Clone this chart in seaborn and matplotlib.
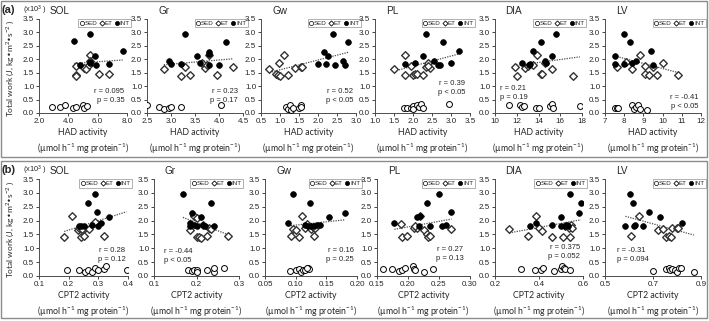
import numpy as np
import matplotlib
matplotlib.use("Agg")
import matplotlib.pyplot as plt
import seaborn as sns
from matplotlib.lines import Line2D
from matplotlib.patches import Rectangle

MUSCLES = ["SOL", "Gr", "Gw", "PL", "DIA", "LV"]

# ---- panel (a): HAD activity vs total work (x10^3), (x, y) pairs ----
HAD_SOL_SED = [(2.9, 0.22), (3.4, 0.22), (3.8, 0.30), (4.3, 0.18), (4.5, 0.22), (5.0, 0.30), (5.1, 0.20), (5.3, 0.25)]
HAD_SOL_ET = [(5.5, 2.17), (4.5, 1.75), (4.5, 1.40), (4.5, 1.38), (5.1, 1.68), (5.2, 1.63), (5.4, 1.78), (6.1, 1.45), (6.8, 1.45), (5.5, 1.95)]
HAD_SOL_INT = [(4.4, 2.67), (5.5, 2.96), (5.8, 2.13), (7.7, 2.30), (4.8, 1.80), (5.5, 1.90), (5.5, 1.85), (5.9, 1.80), (6.8, 1.83)]

HAD_GR_SED = [(2.5, 0.30), (2.75, 0.22), (2.85, 0.15), (2.95, 0.18), (3.0, 0.24), (3.2, 0.22), (4.05, 0.30)]
HAD_GR_ET = [(2.85, 1.65), (3.2, 1.38), (3.3, 1.72), (3.4, 1.43), (3.65, 1.87), (3.7, 1.68), (3.75, 1.78), (3.8, 2.16), (3.95, 1.43), (4.3, 1.73)]
HAD_GR_INT = [(3.3, 2.95), (2.95, 1.93), (3.0, 1.83), (3.2, 1.82), (3.55, 2.13), (3.6, 1.87), (3.8, 2.28), (3.8, 2.18), (3.8, 1.80), (4.0, 1.80), (4.15, 2.65)]

HAD_GW_SED = [(1.15, 0.22), (1.2, 0.15), (1.25, 0.28), (1.3, 0.12), (1.35, 0.20), (1.5, 0.18), (1.55, 0.30), (1.55, 0.22)]
HAD_GW_ET = [(0.72, 1.65), (0.9, 1.45), (0.95, 1.40), (1.0, 1.38), (0.97, 1.87), (1.1, 2.16), (1.2, 1.42), (1.4, 1.68), (1.55, 1.72), (1.58, 1.73)]
HAD_GW_INT = [(2.0, 1.82), (2.15, 2.28), (2.2, 1.83), (2.25, 2.13), (2.4, 2.95), (2.45, 1.80), (2.65, 1.93), (2.7, 1.80), (2.8, 2.65)]

HAD_PL_SED = [(1.75, 0.20), (1.85, 0.18), (1.95, 0.20), (2.0, 0.25), (2.0, 0.15), (2.1, 0.30), (2.15, 0.22), (2.2, 0.35), (2.25, 0.20), (2.95, 0.35)]
HAD_PL_ET = [(1.5, 1.65), (1.8, 2.17), (1.8, 1.40), (1.95, 1.75), (2.0, 1.43), (2.05, 1.45), (2.1, 1.45), (2.25, 1.40), (2.35, 1.72), (2.4, 1.87), (2.45, 1.68), (2.4, 1.76)]
HAD_PL_INT = [(1.8, 1.82), (2.05, 1.85), (2.25, 2.12), (2.35, 2.95), (2.55, 1.93), (2.65, 1.80), (2.7, 1.80), (2.8, 2.65), (3.0, 1.85), (3.2, 2.30)]

HAD_DIA_SED = [(11.3, 0.28), (12.3, 0.30), (12.5, 0.22), (12.7, 0.25), (13.8, 0.20), (14.0, 0.18), (15.1, 0.25), (15.2, 0.35), (15.3, 0.20), (17.8, 0.25)]
HAD_DIA_ET = [(11.8, 1.72), (12.0, 1.38), (12.8, 1.68), (13.0, 1.75), (13.5, 1.77), (13.9, 2.17), (14.2, 1.45), (14.3, 1.45), (14.6, 1.85), (15.2, 1.65), (17.2, 1.38)]
HAD_DIA_INT = [(12.5, 1.85), (13.1, 1.80), (13.2, 1.83), (13.5, 2.30), (14.2, 2.65), (14.6, 1.95), (14.7, 1.88), (15.2, 2.12), (15.6, 2.95)]

HAD_LV_SED = [(7.5, 0.20), (7.6, 0.20), (7.7, 0.20), (8.4, 0.28), (8.5, 0.15), (8.6, 0.22), (8.7, 0.30), (8.8, 0.15), (9.2, 0.12)]
HAD_LV_ET = [(7.6, 1.72), (8.1, 1.90), (8.4, 1.65), (8.8, 2.17), (9.1, 1.45), (9.1, 1.75), (9.3, 1.40), (9.5, 1.70), (9.7, 1.40), (10.0, 1.88), (10.8, 1.43)]
HAD_LV_INT = [(7.5, 2.13), (7.5, 1.83), (8.0, 2.95), (8.0, 1.82), (8.3, 2.65), (8.4, 1.85), (8.6, 1.93), (9.4, 2.30), (9.5, 1.80)]

# ---- panel (b): CPT2 activity vs total work (x10^3) ----
CPT_SOL_SED = [(0.195, 0.20), (0.235, 0.22), (0.255, 0.15), (0.265, 0.20), (0.28, 0.15), (0.29, 0.30), (0.30, 0.20), (0.32, 0.25), (0.325, 0.35), (0.395, 0.22)]
CPT_SOL_ET = [(0.185, 1.40), (0.21, 2.17), (0.23, 1.65), (0.235, 1.72), (0.24, 1.40), (0.25, 1.45), (0.255, 1.72), (0.27, 1.68), (0.29, 1.95), (0.32, 1.45), (0.245, 1.70)]
CPT_SOL_INT = [(0.235, 1.80), (0.25, 1.82), (0.265, 2.65), (0.28, 1.85), (0.29, 2.95), (0.295, 2.30), (0.30, 1.80), (0.31, 1.92), (0.335, 2.12), (0.24, 1.82)]

CPT_GR_SED = [(0.18, 0.22), (0.19, 0.17), (0.195, 0.20), (0.20, 0.22), (0.20, 0.15), (0.225, 0.22), (0.24, 0.15), (0.24, 0.30), (0.265, 0.30)]
CPT_GR_ET = [(0.185, 1.65), (0.195, 2.15), (0.20, 1.40), (0.205, 1.40), (0.21, 1.38), (0.215, 1.85), (0.225, 1.45), (0.23, 1.75), (0.235, 1.70), (0.275, 1.45), (0.20, 2.10)]
CPT_GR_INT = [(0.168, 2.95), (0.185, 1.92), (0.19, 2.28), (0.185, 1.82), (0.20, 1.82), (0.21, 2.12), (0.215, 1.85), (0.22, 1.80), (0.235, 2.65), (0.24, 1.80), (0.195, 1.85)]

CPT_GW_SED = [(0.09, 0.18), (0.10, 0.20), (0.105, 0.25), (0.108, 0.15), (0.112, 0.22), (0.115, 0.20), (0.12, 0.30), (0.122, 0.25), (0.118, 0.28)]
CPT_GW_ET = [(0.092, 1.45), (0.095, 1.68), (0.10, 1.65), (0.105, 1.40), (0.11, 2.15), (0.115, 1.72), (0.118, 1.88), (0.125, 1.70), (0.128, 1.78), (0.13, 1.45), (0.132, 1.72)]
CPT_GW_INT = [(0.088, 1.93), (0.095, 2.95), (0.115, 1.85), (0.12, 1.80), (0.123, 2.65), (0.13, 1.80), (0.135, 1.85), (0.14, 1.85), (0.155, 2.12), (0.18, 2.28), (0.125, 1.82)]

CPT_PL_SED = [(0.16, 0.25), (0.175, 0.25), (0.185, 0.18), (0.19, 0.20), (0.195, 0.30), (0.208, 0.35), (0.21, 0.25), (0.212, 0.20), (0.225, 0.15), (0.24, 0.25)]
CPT_PL_ET = [(0.188, 1.88), (0.19, 1.40), (0.198, 1.45), (0.21, 1.72), (0.215, 1.72), (0.22, 2.15), (0.225, 1.65), (0.23, 1.50), (0.232, 1.40), (0.235, 1.45), (0.27, 1.68), (0.212, 1.80)]
CPT_PL_INT = [(0.178, 1.93), (0.215, 2.12), (0.218, 1.80), (0.22, 2.18), (0.23, 2.65), (0.235, 1.82), (0.25, 2.95), (0.255, 1.82), (0.262, 1.85), (0.27, 2.30)]

CPT_DIA_SED = [(0.32, 0.25), (0.38, 0.20), (0.41, 0.22), (0.42, 0.30), (0.47, 0.18), (0.50, 0.25), (0.505, 0.35), (0.515, 0.28), (0.52, 0.25), (0.54, 0.22)]
CPT_DIA_ET = [(0.265, 1.70), (0.35, 1.45), (0.385, 2.15), (0.40, 1.72), (0.415, 1.62), (0.46, 1.42), (0.51, 1.40), (0.52, 1.82), (0.535, 1.75), (0.54, 1.40), (0.545, 1.85), (0.55, 1.72)]
CPT_DIA_INT = [(0.36, 1.82), (0.385, 1.92), (0.46, 1.85), (0.50, 2.12), (0.50, 1.80), (0.52, 1.82), (0.53, 1.80), (0.54, 2.95), (0.58, 2.28), (0.59, 2.65), (0.525, 1.85)]

CPT_LV_SED = [(0.70, 0.18), (0.755, 0.25), (0.765, 0.30), (0.77, 0.20), (0.78, 0.25), (0.79, 0.22), (0.80, 0.15), (0.81, 0.28), (0.815, 0.30), (0.87, 0.15)]
CPT_LV_ET = [(0.61, 1.45), (0.64, 2.17), (0.72, 1.65), (0.74, 1.68), (0.755, 1.40), (0.765, 1.45), (0.78, 1.72), (0.80, 1.72), (0.805, 1.75), (0.775, 1.42)]
CPT_LV_INT = [(0.585, 1.82), (0.605, 2.95), (0.615, 2.65), (0.62, 1.82), (0.625, 1.85), (0.66, 1.82), (0.685, 2.30), (0.73, 2.12), (0.82, 1.93)]

HAD_DATA = [
    (HAD_SOL_SED, HAD_SOL_ET, HAD_SOL_INT), (HAD_GR_SED, HAD_GR_ET, HAD_GR_INT),
    (HAD_GW_SED, HAD_GW_ET, HAD_GW_INT), (HAD_PL_SED, HAD_PL_ET, HAD_PL_INT),
    (HAD_DIA_SED, HAD_DIA_ET, HAD_DIA_INT), (HAD_LV_SED, HAD_LV_ET, HAD_LV_INT),
]
CPT_DATA = [
    (CPT_SOL_SED, CPT_SOL_ET, CPT_SOL_INT), (CPT_GR_SED, CPT_GR_ET, CPT_GR_INT),
    (CPT_GW_SED, CPT_GW_ET, CPT_GW_INT), (CPT_PL_SED, CPT_PL_ET, CPT_PL_INT),
    (CPT_DIA_SED, CPT_DIA_ET, CPT_DIA_INT), (CPT_LV_SED, CPT_LV_ET, CPT_LV_INT),
]

HAD_XTICKS = [[2.0, 4.0, 6.0, 8.0], [2.5, 3.0, 3.5, 4.0, 4.5], [0.5, 1.0, 1.5, 2.0, 2.5, 3.0],
              [1.0, 1.5, 2.0, 2.5, 3.0, 3.5], [10, 12, 14, 16, 18], [7, 8, 9, 10, 11, 12]]
HAD_XFMT = ["{:.1f}", "{:.1f}", "{:.1f}", "{:.1f}", "{:.0f}", "{:.0f}"]
HAD_R = ["0.095", "0.23", "0.52", "0.39", "0.21", "-0.41"]
HAD_P = ["= 0.35", "= 0.17", "< 0.05", "< 0.05", "= 0.19", "< 0.05"]

CPT_XTICKS = [[0.1, 0.2, 0.3, 0.4], [0.1, 0.2, 0.3], [0.05, 0.10, 0.15, 0.20],
              [0.15, 0.20, 0.25, 0.30], [0.2, 0.4, 0.6], [0.5, 0.7, 0.9]]
CPT_XFMT = ["{:.1f}", "{:.1f}", "{:.2f}", "{:.2f}", "{:.1f}", "{:.1f}"]
CPT_R = ["0.28", "-0.44", "0.16", "0.27", "0.375", "-0.31"]
CPT_P = ["= 0.12", "< 0.05", "= 0.25", "= 0.13", "= 0.052", "= 0.094"]

# layout (pixels of a 709x321 canvas)
W, H = 709, 321
ROW_A = dict(lefts=[39, 147, 261, 375, 495, 605], rights=[127, 243, 356, 470, 582, 701], top=19, bottom=113)
ROW_B = dict(lefts=[39, 154, 265, 377, 495, 605], rights=[128, 239, 357, 470, 583, 701], top=179, bottom=276)
# stat text: (x in axes fraction, y of lower line, alignment)
A_TXT = [(0.97, 0.10, "right"), (0.95, 0.10, "right"), (0.97, 0.10, "right"),
         (0.95, 0.18, "right"), (0.06, 0.13, "left"), (0.97, 0.03, "right")]
B_TXT = [(0.97, 0.13, "right"), (0.12, 0.12, "left"), (0.97, 0.13, "right"),
         (0.93, 0.14, "right"), (0.97, 0.16, "right"), (0.12, 0.13, "left")]

sns.set_theme(style="ticks")
plt.rcParams["font.family"] = ["Liberation Sans", "DejaVu Sans"]
plt.rcParams["mathtext.default"] = "regular"

fig = plt.figure(figsize=(W / 100, H / 100), dpi=100)

LABEL_FONT = ["Lato", "DejaVu Sans"]


def draw_row(data, xticks, xfmt, rvals, pvals, txt, row, xname, tag):
    for i, (sed, et, intv) in enumerate(data):
        l, r = row["lefts"][i], row["rights"][i]
        ax = fig.add_axes([l / W, 1 - row["bottom"] / H, (r - l) / W, (row["bottom"] - row["top"]) / H])

        sx, sy = zip(*sed)
        ex, ey = zip(*et)
        ix, iy = zip(*intv)
        sns.scatterplot(x=list(sx), y=list(sy), marker="o", color="white", edgecolor="black",
                        linewidth=0.7, s=18, ax=ax, zorder=3)
        sns.scatterplot(x=list(ex), y=list(ey), marker="D", color="white", edgecolor="0.2",
                        linewidth=1.0, s=15, ax=ax, zorder=3)
        sns.scatterplot(x=list(ix), y=list(iy), marker="o", color="black", edgecolor="black",
                        linewidth=0.5, s=17, ax=ax, zorder=4)
        # dotted trend line fitted on the trained (ET + INT) animals,
        # drawn from the lowest trained x to the largest x of the panel
        trained_x = np.array(ex + ix)
        ax.set_xlim(trained_x.min(), max(sx + ex + ix))
        sns.regplot(x=trained_x, y=np.array(ey + iy), scatter=False, ci=None, ax=ax,
                    truncate=False, color="0.3", line_kws=dict(lw=0.9, ls=(0, (1, 1))))

        ax.set_xlim(xticks[i][0], xticks[i][-1])
        ax.set_ylim(0, 3.5)
        ax.set_xticks(xticks[i])
        ax.set_xticklabels([xfmt[i].format(v) for v in xticks[i]])
        ax.set_yticks(np.arange(0, 3.51, 0.5))
        ax.set_yticklabels(["{:.1f}".format(v) for v in np.arange(0, 3.51, 0.5)])
        ax.tick_params(direction="out", length=2, width=0.6, labelsize=5.8, pad=1.5, colors="0.15")
        for sp in ["left", "bottom"]:
            ax.spines[sp].set_linewidth(0.7)
            ax.spines[sp].set_color("0.3")
        sns.despine(ax=ax)
        ax.set_xlabel(xname + " activity\n(µmol h$^{-1}$ mg protein$^{-1}$)", fontsize=6.3,
                      family=LABEL_FONT, labelpad=2, linespacing=1.5)
        ax.set_ylabel("")

        ax.text(0.12, 1.03, MUSCLES[i], transform=ax.transAxes, fontsize=7.2, va="bottom", ha="left")
        tx, ty, ha = txt[i]
        ax.text(tx, ty, "r = " + rvals[i] + "\np " + pvals[i], transform=ax.transAxes,
                fontsize=5.5, ha=ha, va="bottom", linespacing=1.4)

        handles = [
            Line2D([], [], ls="", marker="o", mfc="white", mec="black", ms=3, mew=0.5),
            Line2D([], [], ls="", marker="D", mfc="white", mec="black", ms=2.6, mew=0.6),
            Line2D([], [], ls="", marker="o", mfc="black", mec="black", ms=3, mew=0.5),
        ]
        leg = ax.legend(handles, ["SED", "ET", "INT"], ncol=3, loc="upper right",
                        bbox_to_anchor=(1.05, 1.0), fontsize=4.5, frameon=True, fancybox=False,
                        handlelength=0.6, handletextpad=0.15, columnspacing=0.4,
                        borderpad=0.25, borderaxespad=0)
        leg.get_frame().set_edgecolor("0.55")
        leg.get_frame().set_linewidth(0.6)

        if i == 0:
            yc = 1 - ((row["top"] + row["bottom"]) / 2 + 2) / H
            fig.text(10 / W, yc, "Total work (J, kg•m$^{2}$•s$^{-2}$ )", rotation=90,
                     fontsize=6.0, ha="center", va="center", family=LABEL_FONT)
            fig.text(2 / W, 1 - (row["top"] - 9) / H, tag, fontsize=8, fontweight="bold",
                     ha="left", va="center")
            fig.text(23 / W, 1 - (row["top"] - 9) / H, "(x10$^{3}$ )", fontsize=5.3,
                     ha="left", va="center")


draw_row(HAD_DATA, HAD_XTICKS, HAD_XFMT, HAD_R, HAD_P, A_TXT, ROW_A, "HAD", "(a)")
draw_row(CPT_DATA, CPT_XTICKS, CPT_XFMT, CPT_R, CPT_P, B_TXT, ROW_B, "CPT2", "(b)")

# frame around each row
for y0, y1 in [(1, 157), (161, 318)]:
    fig.patches.append(Rectangle((1 / W, 1 - y1 / H), 706 / W, (y1 - y0) / H,
                                 transform=fig.transFigure, fill=False,
                                 edgecolor="0.55", lw=1.0))

fig.savefig("out.png", dpi=100)
